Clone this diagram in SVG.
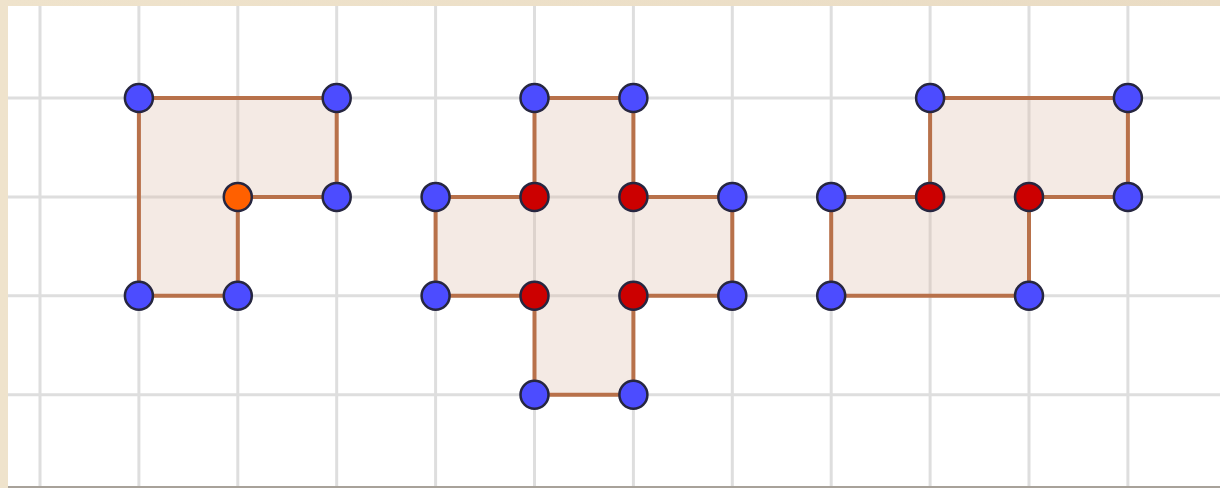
<svg xmlns="http://www.w3.org/2000/svg" width="1220" height="488" viewBox="0 0 1220 488">
<defs>
<linearGradient id="frame" x1="0" y1="0" x2="1" y2="0">
<stop offset="0" stop-color="#efe3cc"/>
<stop offset="1" stop-color="#eadcc4"/>
</linearGradient>
</defs>
<style>
.grid line{stroke:#dedede;stroke-width:3}
.shape{fill:#d9b8a6;fill-opacity:0.3;stroke:#b8714a;stroke-width:4;stroke-linejoin:round}
.dot{stroke:#262640;stroke-width:2.5}
.blue{fill:#4c4cff}
.red{fill:#cc0000}
.orange{fill:#ff6000}
</style>
<rect x="0" y="0" width="1220" height="488" fill="url(#frame)"/>
<rect x="8" y="6" width="1212" height="480" fill="#ffffff"/>
<rect x="8" y="486" width="1212" height="2" fill="#a8a29a"/>
<g class="grid">
<line x1="40" y1="6" x2="40" y2="486"/>
<line x1="138.9" y1="6" x2="138.9" y2="486"/>
<line x1="237.8" y1="6" x2="237.8" y2="486"/>
<line x1="336.7" y1="6" x2="336.7" y2="486"/>
<line x1="435.6" y1="6" x2="435.6" y2="486"/>
<line x1="534.5" y1="6" x2="534.5" y2="486"/>
<line x1="633.4" y1="6" x2="633.4" y2="486"/>
<line x1="732.3" y1="6" x2="732.3" y2="486"/>
<line x1="831.2" y1="6" x2="831.2" y2="486"/>
<line x1="930.1" y1="6" x2="930.1" y2="486"/>
<line x1="1029" y1="6" x2="1029" y2="486"/>
<line x1="1127.9" y1="6" x2="1127.9" y2="486"/>
<line x1="8" y1="98" x2="1220" y2="98"/>
<line x1="8" y1="196.9" x2="1220" y2="196.9"/>
<line x1="8" y1="295.8" x2="1220" y2="295.8"/>
<line x1="8" y1="394.7" x2="1220" y2="394.7"/>
</g>
<g id="shape-l">
<polygon class="shape" points="138.9,98 336.7,98 336.7,196.9 237.8,196.9 237.8,295.8 138.9,295.8"/>
<circle class="dot blue" cx="138.9" cy="98" r="14"/>
<circle class="dot blue" cx="336.7" cy="98" r="14"/>
<circle class="dot blue" cx="336.7" cy="196.9" r="14"/>
<circle class="dot orange" cx="237.8" cy="196.9" r="14"/>
<circle class="dot blue" cx="237.8" cy="295.8" r="14"/>
<circle class="dot blue" cx="138.9" cy="295.8" r="14"/>
</g>
<g id="shape-plus">
<polygon class="shape" points="534.5,98 633.4,98 633.4,196.9 732.3,196.9 732.3,295.8 633.4,295.8 633.4,394.7 534.5,394.7 534.5,295.8 435.6,295.8 435.6,196.9 534.5,196.9"/>
<circle class="dot blue" cx="534.5" cy="98" r="14"/>
<circle class="dot blue" cx="633.4" cy="98" r="14"/>
<circle class="dot red" cx="633.4" cy="196.9" r="14"/>
<circle class="dot blue" cx="732.3" cy="196.9" r="14"/>
<circle class="dot blue" cx="732.3" cy="295.8" r="14"/>
<circle class="dot red" cx="633.4" cy="295.8" r="14"/>
<circle class="dot blue" cx="633.4" cy="394.7" r="14"/>
<circle class="dot blue" cx="534.5" cy="394.7" r="14"/>
<circle class="dot red" cx="534.5" cy="295.8" r="14"/>
<circle class="dot blue" cx="435.6" cy="295.8" r="14"/>
<circle class="dot blue" cx="435.6" cy="196.9" r="14"/>
<circle class="dot red" cx="534.5" cy="196.9" r="14"/>
</g>
<g id="shape-s">
<polygon class="shape" points="930.1,98 1127.9,98 1127.9,196.9 1029,196.9 1029,295.8 831.2,295.8 831.2,196.9 930.1,196.9"/>
<circle class="dot blue" cx="930.1" cy="98" r="14"/>
<circle class="dot blue" cx="1127.9" cy="98" r="14"/>
<circle class="dot blue" cx="1127.9" cy="196.9" r="14"/>
<circle class="dot red" cx="1029" cy="196.9" r="14"/>
<circle class="dot blue" cx="1029" cy="295.8" r="14"/>
<circle class="dot blue" cx="831.2" cy="295.8" r="14"/>
<circle class="dot blue" cx="831.2" cy="196.9" r="14"/>
<circle class="dot red" cx="930.1" cy="196.9" r="14"/>
</g>
</svg>
